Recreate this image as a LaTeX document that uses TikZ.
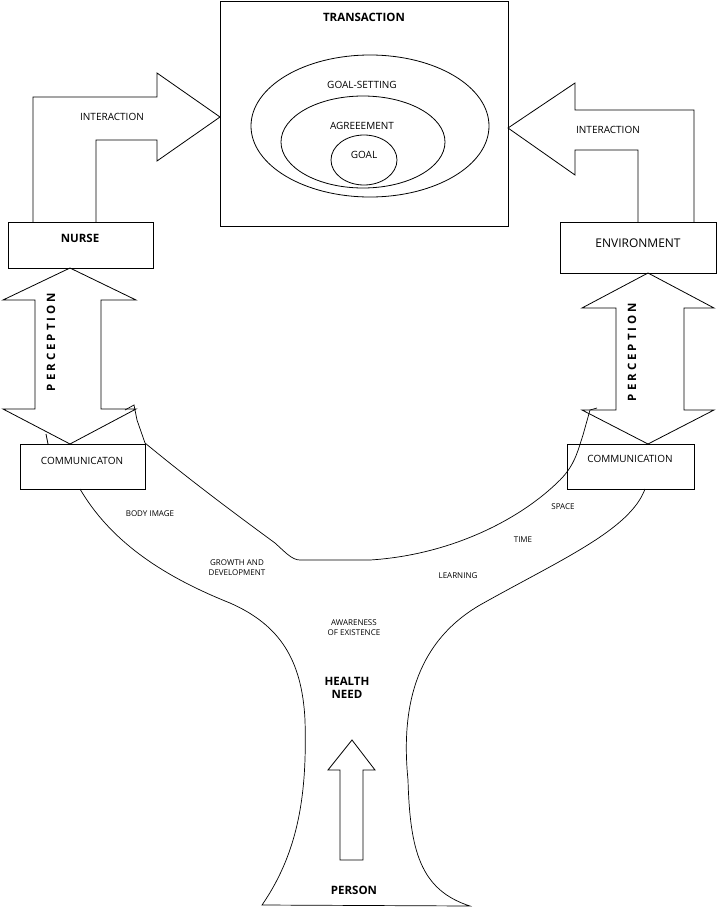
\documentclass[tikz,border=0pt]{standalone}
\usepackage{fontspec}
\setmainfont{Open Sans}
\begin{document}
\begin{tikzpicture}[x=1pt,y=-1pt,line width=0.8pt,
  big/.style={font=\fontsize{12}{14}\selectfont},
  bigb/.style={font=\bfseries\fontsize{11.5}{13.5}\selectfont},
  mid/.style={font=\fontsize{10}{12}\selectfont},
  small/.style={font=\fontsize{8}{10}\selectfont}]
\useasboundingbox (0,0) rectangle (722,916);
% transaction
\draw (220,1) rectangle (508,226);
\node[bigb] (tr) at (364,17) {TRANSACTION};
\draw (370,126) ellipse [x radius=119,y radius=71];
\draw (363,142) ellipse [x radius=82,y radius=46];
\draw (364,160) ellipse [x radius=33,y radius=25];
\node[mid] (gs) at (362,85) {GOAL-SETTING};
\node[mid] (ag) at (362,126) {AGREEEMENT};
\node[mid] (go) at (364,155) {GOAL};
% interaction arrows
\draw (33,222)--(33,97)--(157,97)--(157,73)--(220,117)--(157,161)--(157,140)--(96,140)--(96,222);
\node[mid] (i1) at (112,117) {INTERACTION};
\draw (638,222)--(638,150)--(575,150)--(575,175)--(508,128)--(575,83)--(575,110)--(694,110)--(694,222);
\node[mid] (i2) at (608,130) {INTERACTION};
% boxes
\draw (8,222) rectangle (153,268);
\node[bigb] (nurse) at (80,238) {NURSE};
\draw (560,222) rectangle (716,273);
\node[big] (env) at (638,243) {ENVIRONMENT};
\draw (20,444) rectangle (145,489);
\node[mid] (c1) at (82,461) {COMMUNICATON};
\draw (567,444) rectangle (694,489);
\node[mid] (c2) at (630,459) {COMMUNICATION};
% perception arrows
\draw (70,268)--(136,300)--(101,300)--(101,409)--(136,409)--(70,444)--(3,409)--(35,409)--(35,300)--(3,300)--cycle;
\node[bigb,rotate=90] (p1) at (51,342) {P E R C E P T I O N};
\draw (648,273)--(714,308)--(684,308)--(684,410)--(714,410)--(648,444)--(582,410)--(616,410)--(616,308)--(582,308)--cycle;
\node[bigb,rotate=90] (p2) at (632,352) {P E R C E P T I O N};
\draw (46,434)--(48,444);
% tree
\draw[line width=0.7pt] (80,489) .. controls (110,540) and (160,575) .. (230,603)
  .. controls (280,625) and (302,660) .. (305,720)
  .. controls (307,790) and (300,850) .. (262,905)
  -- (470,906) .. controls (420,890) and (410,850) .. (408,780)
  .. controls (400,700) and (420,640) .. (480,605)
  .. controls (560,560) and (630,530) .. (645,489);
\draw[line width=0.7pt] (125,410) -- (134,405) -- (137,420) -- (145,443)
  .. controls (190,480) and (230,510) .. (275,543)
  .. controls (285,552) and (292,560) .. (300,560) -- (370,560)
  .. controls (450,555) and (520,520) .. (560,480)
  .. controls (575,465) and (578,450) .. (583,435) -- (590,410) -- (597,408);
\node[small] (bi) at (150,514) {BODY IMAGE};
\node[small,align=center] (gd) at (237,568) {GROWTH AND\\DEVELOPMENT};
\node[small] (sp) at (563,507) {SPACE};
\node[small] (ti) at (523,540) {TIME};
\node[small] (le) at (458,576) {LEARNING};
\node[small,align=center] (aw) at (354,628) {AWARENESS\\OF EXISTENCE};
\node[bigb,align=center] (hn) at (347,688) {HEALTH\\NEED};
\node[bigb] (pe) at (354,890) {PERSON};
\draw (340,860)--(340,770)--(328,770)--(352,740)--(375,770)--(363,770)--(363,860)--cycle;
\end{tikzpicture}
\end{document}
